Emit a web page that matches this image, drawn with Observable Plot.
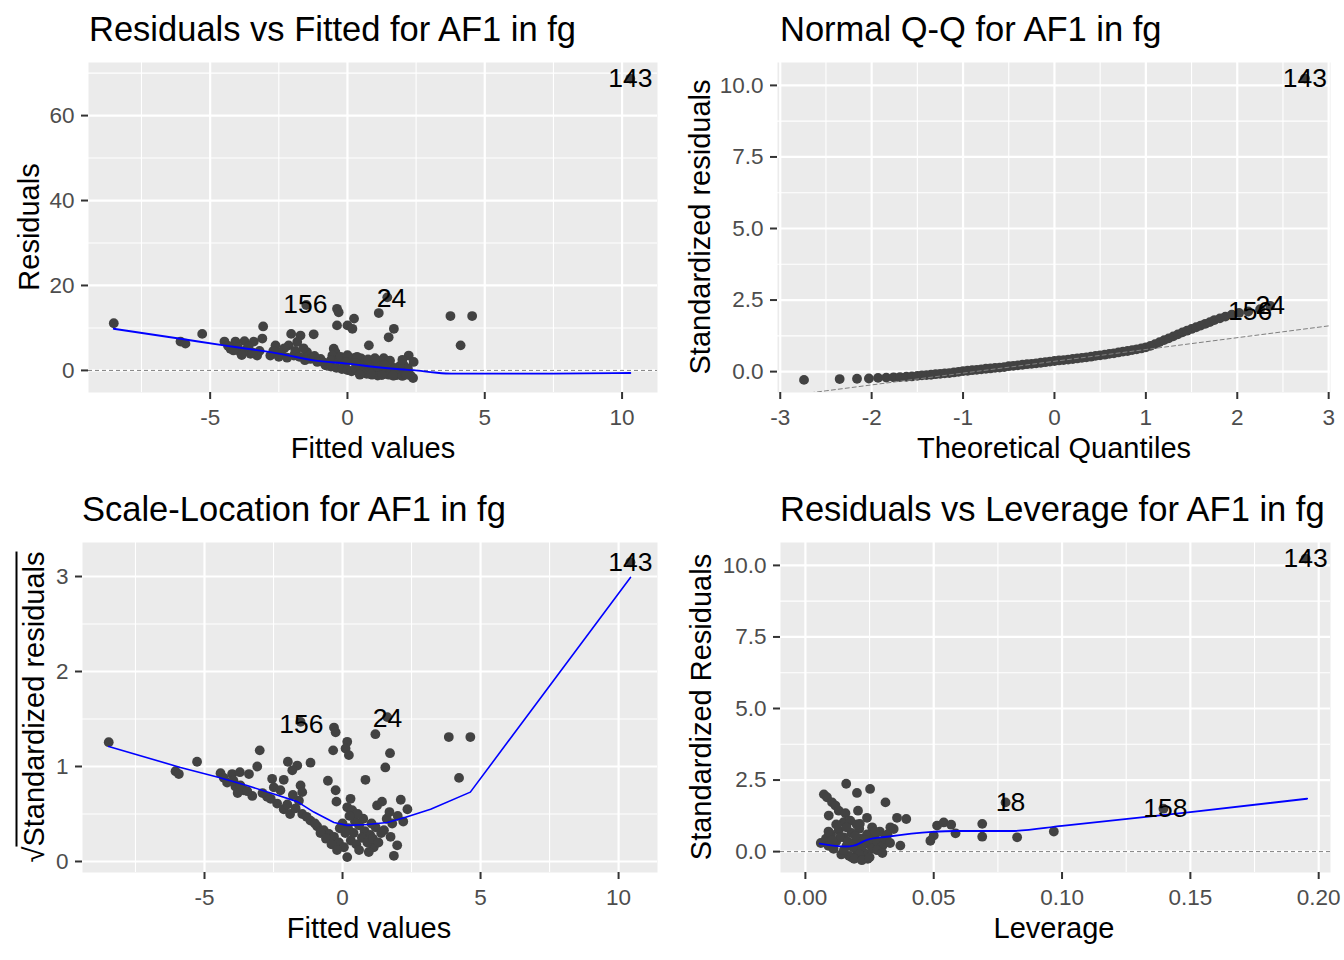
<!DOCTYPE html>
<html><head><meta charset="utf-8">
<script src="https://cdn.jsdelivr.net/npm/d3@7"></script>
<script src="https://cdn.jsdelivr.net/npm/@observablehq/plot@0.6"></script>
<style>
body{margin:0;background:#fff;}
#wrap{position:relative;width:1344px;height:960px;font-family:"Liberation Sans",Arial,sans-serif;overflow:hidden;}
.q{position:absolute;width:672px;height:480px;}
.q svg{position:absolute;left:0;top:0;}
.ttl{position:absolute;font-size:34.5px;line-height:34.5px;white-space:nowrap;color:#000;}
.xt{position:absolute;font-size:29px;line-height:29px;white-space:nowrap;color:#000;transform:translateX(-50%);}
.yt{position:absolute;font-size:29px;line-height:29px;white-space:nowrap;color:#000;transform:translate(-50%,-50%) rotate(-90deg);}
</style></head>
<body>
<div id="wrap">
  <div class="q" id="p1" style="left:0;top:0"></div>
  <div class="q" id="p2" style="left:672px;top:0"></div>
  <div class="q" id="p3" style="left:0;top:480px"></div>
  <div class="q" id="p4" style="left:672px;top:480px"></div>
  <div class="ttl" style="left:89px;top:12px">Residuals vs Fitted for AF1 in fg</div>
  <div class="ttl" style="left:780px;top:12px">Normal Q-Q for AF1 in fg</div>
  <div class="ttl" style="left:82px;top:492px">Scale-Location for AF1 in fg</div>
  <div class="ttl" style="left:780px;top:492px">Residuals vs Leverage for AF1 in fg</div>
  <div class="xt" style="left:373px;top:434px">Fitted values</div>
  <div class="xt" style="left:1054px;top:434px">Theoretical Quantiles</div>
  <div class="xt" style="left:369px;top:914px">Fitted values</div>
  <div class="xt" style="left:1054px;top:914px">Leverage</div>
  <div class="yt" style="left:29px;top:227px">Residuals</div>
  <div class="yt" style="left:700px;top:227px">Standardized residuals</div>
  <div class="yt" style="left:34px;top:707px">√<span style="text-decoration:overline">Standardized residuals</span></div>
  <div class="yt" style="left:701px;top:707px">Standardized Residuals</div>
</div>
<script>
// ---------- Panel 1: Residuals vs Fitted ----------
const fitted1 = [-8.51,-6.08,-5.9,-5.29,-4.48,-4.08,-3.75,-3.41,-4.26,-3.9,-3.53,-3.29,-4.35,-4.0,-3.7,-3.6,-3.2,-4.15,-3.85,-3.45,
 -3.07,-3.1,-2.62,-2.81,-2.44,-2.14,-2.05,-1.71,-1.83,-1.95,-1.47,-1.23,-0.98,-1.35,-2.7,-2.5,-2.3,-2.2,-1.9,-1.75,-1.6,-1.55,-1.2,-1.1,-0.85,
 -0.5,-0.38,-0.32,-0.38,-0.44,-0.55,-0.6,-0.3,0.0,0.24,0.18,0.24,-0.12,0.6,0.78,1.14,1.45,1.69,1.5,1.32,2.23,2.41,2.05,2.39,
 3.75,4.54,4.12,10.3,-1.5,
 -0.8,-0.6,-0.4,-0.2,0.0,0.15,0.3,0.4,0.5,0.6,0.7,0.8,0.9,1.0,1.1,1.2,1.3,1.4,1.5,1.6,1.7,1.8,1.9,2.0,2.1,2.2,1.9,2.3,0.1,0.5,1.2,-0.25,0.0,0.35,0.65,0.9,1.1,1.7,2.0,1.55,0.3,-0.05,0.75,1.35,1.0,0.45,0.85,1.25,1.65,2.15];
const resid1 = [11.1,6.8,6.3,8.6,6.8,6.8,6.9,6.8,5.1,4.3,3.9,3.5,5.8,5.5,4.8,5.6,4.6,4.7,3.6,4.2,
 10.35,7.5,5.9,3.5,4.3,5.9,8.6,8.2,6.7,3.5,4.3,8.5,2.7,2.7,4.6,3.2,5.2,3.0,4.6,3.2,5.2,2.4,3.4,2.0,1.8,
 5.1,14.5,13.7,10.6,4.3,3.5,2.4,2.6,10.6,12.2,9.8,2.9,1.6,2.0,5.9,13.5,17.2,9.8,7.8,2.9,3.5,2.0,1.2,-1.8,
 12.8,12.8,5.9,68.7,15.4,
 1.2,0.9,0.6,0.3,0.1,-0.2,0.5,1.2,-0.5,0.3,-0.8,0.8,-1.0,-0.3,-1.2,0.5,-0.9,-0.6,-1.0,0.2,-1.2,-1.1,-0.5,-1.3,-0.9,0.5,1.0,-1.2,2.5,2.8,2.2,3.2,3.6,3.2,1.6,1.5,0.9,0.6,2.5,2.3,1.7,1.9,2.6,1.3,2.9,-1.0,-0.9,-1.1,-1.2,-1.0];
const smooth1X = [-8.51,-6.08,-4.5,-3.66,-2.44,-1.23,0,1.2,2.05,2.4,3.17,3.8,7.5,10.3];
const smooth1Y = [9.8,7.45,5.9,5.1,3.9,2.35,1.6,0.7,0.2,0.06,-0.5,-0.75,-0.75,-0.6];
const lab1Text = ["143","156","24"];
const lab1X = [10.3,-1.53,1.6];
const lab1Y = [68.7,15.5,16.9];

// ---------- Panel 2: Normal Q-Q ----------
const theo2 = [-2.74,-2.35,-2.16,-2.03,-1.93,-1.84,-1.76,-1.69,-1.62,-1.56,-1.5,-1.45,-1.4,-1.35,-1.3,-1.25,-1.2,-1.15,-1.1,-1.05,
 -1.0,-0.95,-0.9,-0.85,-0.8,-0.75,-0.7,-0.65,-0.6,-0.55,-0.5,-0.45,-0.4,-0.35,-0.3,-0.25,-0.2,-0.15,-0.1,-0.05,
 0,0.05,0.1,0.15,0.2,0.25,0.3,0.35,0.4,0.45,0.5,0.55,0.6,0.65,0.7,0.75,0.8,0.85,0.9,0.95,
 1.0,1.05,1.1,1.15,1.2,1.25,1.3,1.35,1.4,1.45,1.5,1.55,1.6,1.65,1.7,1.75,1.81,1.87,1.94,2.02,2.12,2.25,2.36,2.74];
const std2 = [-0.29,-0.26,-0.25,-0.24,-0.22,-0.21,-0.2,-0.19,-0.18,-0.17,-0.15,-0.13,-0.12,-0.11,-0.09,-0.08,-0.06,-0.05,-0.03,-0.01,
 0.02,0.03,0.05,0.06,0.08,0.1,0.11,0.13,0.14,0.16,0.19,0.2,0.22,0.24,0.26,0.27,0.29,0.31,0.33,0.35,
 0.37,0.39,0.4,0.42,0.44,0.46,0.48,0.5,0.52,0.55,0.57,0.59,0.62,0.64,0.67,0.7,0.72,0.75,0.78,0.81,
 0.85,0.9,0.96,1.03,1.1,1.16,1.23,1.3,1.37,1.43,1.49,1.55,1.61,1.67,1.73,1.8,1.86,1.92,1.99,2.05,2.1,2.18,2.3,10.24];
const qqLineX = [-3.2,3.2];
const qqLineY = [-0.96,1.68];
const lab2Text = ["143","156","24"];
const lab2X = [2.74,2.14,2.36];
const lab2Y = [10.24,2.1,2.31];

// ---------- Panel 3: Scale-Location ----------
const fitted3 = [-8.47,-6.05,-5.93,-5.27,-4.42,-4.0,-3.72,-4.18,-3.88,-3.58,-3.27,-3.39,-3.09,-3.0,-4.3,-3.95,-3.7,-3.45,-3.8,
 -2.55,-2.13,-2.73,-2.37,-2.13,-2.49,-2.25,-1.98,-1.64,-1.82,-1.16,-1.52,-1.46,-1.58,-2.9,-2.6,-2.0,-1.8,-1.9,-1.7,
 -1.46,-1.16,-0.92,-0.68,-0.49,-0.31,-0.13,0.05,0.17,-1.3,-1.0,-0.8,-0.6,-0.4,-0.2,
 -0.31,-0.25,-0.34,-0.53,-0.25,-0.22,0.17,0.11,0.23,0.29,0.17,0.35,0.83,1.19,1.62,1.72,1.55,1.25,1.43,1.13,2.11,2.35,1.74,1.98,1.86,3.85,4.63,4.22,-1.52,10.43,
 0.0,0.2,0.4,0.6,0.8,1.0,1.2,1.4,1.6,1.8,2.0,0.3,0.5,0.7,0.9,1.1,1.3,1.5,0.1,0.45,0.75,1.05,-0.1,0.6,0.95,1.7,2.2,0.55,0.25];
const sqrtStd3 = [1.256,0.95,0.92,1.05,0.93,0.92,0.94,0.83,0.79,0.75,0.69,0.92,1.0,1.17,0.88,0.85,0.8,0.74,0.72,
 0.87,0.86,0.68,0.61,0.55,0.78,0.75,1.05,1.01,0.96,1.04,0.8,0.73,0.64,0.72,0.66,0.6,0.7,0.5,0.56,
 0.5,0.43,0.37,0.33,0.29,0.26,0.2,0.15,0.046,0.47,0.4,0.3,0.24,0.18,0.12,
 1.41,1.36,1.17,0.85,0.75,0.63,1.26,1.19,1.12,0.66,0.57,0.54,0.86,1.34,1.52,1.14,0.99,0.59,0.63,0.15,0.65,0.55,0.26,0.17,0.06,1.31,1.31,0.88,1.47,3.15,
 0.4,0.35,0.3,0.38,0.32,0.28,0.36,0.3,0.45,0.4,0.48,0.22,0.18,0.25,0.2,0.24,0.2,0.33,0.3,0.42,0.45,0.4,0.35,0.12,0.1,0.52,0.42,0.5,0.48];
const smooth3X = [-8.47,-5.87,-4.54,-3.46,-2.49,-1.64,-1.04,-0.31,0.17,0.89,1.62,2.23,3.19,4.63,10.43];
const smooth3Y = [1.21,0.99,0.89,0.8,0.71,0.63,0.52,0.41,0.38,0.39,0.41,0.46,0.55,0.73,2.99];
const lab3Text = ["143","156","24"];
const lab3X = [10.43,-1.49,1.63];
const lab3Y = [3.15,1.44,1.51];

// ---------- Panel 4: Residuals vs Leverage ----------
const lev4 = [0.0159,0.0252,0.0201,0.0072,0.0084,0.0104,0.0117,0.0312,0.013,0.0156,0.0205,0.0091,0.024,0.0149,0.0175,0.0357,0.0393,0.0331,0.0344,0.0212,
 0.0513,0.0539,0.0568,0.05,0.0487,0.0585,0.0689,0.0689,0.0825,0.0968,0.037,0.0243,0.078,0.1395,0.1949,
 0.006,0.008,0.009,0.01,0.011,0.012,0.013,0.014,0.015,0.016,0.017,0.018,0.019,0.02,0.021,0.022,0.023,0.024,0.025,0.026,0.027,0.028,0.029,0.03,0.031,0.032,0.033,
 0.018,0.02,0.022,0.016,0.012,0.009,0.026,0.028,0.021,0.0135,0.0165,0.0235,0.0195,0.03,0.015,0.027,0.0105,0.0185,0.019,0.022,0.025];
const stdRes4 = [2.37,2.19,2.05,2.0,1.9,1.72,1.61,1.72,1.43,1.34,1.43,1.26,1.18,1.03,1.08,1.18,1.14,0.85,0.79,0.97,
 0.91,1.02,0.94,0.56,0.38,0.64,0.97,0.52,0.5,0.7,0.21,-0.25,1.72,1.5,10.24,
 0.3,0.45,0.2,0.6,0.1,0.35,0.75,-0.1,0.5,0.2,-0.15,0.65,0.3,0.05,0.8,0.45,-0.05,0.6,0.25,0.1,0.5,0.35,0.7,0.2,0.45,0.6,0.3,
 -0.2,0.95,0.15,0.85,0.95,0.7,0.85,0.05,-0.1,0.5,0.35,0.4,0.55,-0.05,0.05,0.7,0.4,0.15,-0.25,-0.3,-0.2];
const smooth4X = [0.0056,0.0156,0.0188,0.024,0.0318,0.0494,0.059,0.08,0.1,0.15,0.1955];
const smooth4Y = [0.28,0.18,0.21,0.41,0.52,0.69,0.72,0.72,0.9,1.38,1.85];
const lab4Text = ["143","18","158"];
const lab4X = [0.1949,0.0799,0.1403];
const lab4Y = [10.24,1.71,1.5];

// ---------- tick / grid definitions ----------
const xMajor13 = [-5,0,5,10], xMinor13 = [-7.5,-2.5,2.5,7.5];
const yMajor1 = [0,20,40,60], yMinor1 = [10,30,50,70];
const xMajor2 = [-3,-2,-1,0,1,2,3], xMinor2 = [-2.5,-1.5,-0.5,0.5,1.5,2.5];
const yMajor24 = [0,2.5,5,7.5,10], yMinor24 = [1.25,3.75,6.25,8.75];
const yMajor3 = [0,1,2,3], yMinor3 = [0.5,1.5,2.5];
const xMajor4 = [0,0.05,0.1,0.15,0.2], xMinor4 = [0.025,0.075,0.125,0.175];

const PT = "#424242";
const fmtPlain = d => String(d);

function panel({ml, mr, xd, yd, xMaj, xMin, yMaj, yMin, xf, yf, marks}) {
  return Plot.plot({
    width: 672, height: 480,
    marginLeft: ml, marginRight: mr, marginTop: 62, marginBottom: 88,
    style: {fontFamily: '"Liberation Sans", Arial, sans-serif', fontSize: "22.5px", color: "#4D4D4D", background: "transparent", overflow: "visible"},
    x: {domain: xd}, y: {domain: yd},
    marks: [
      Plot.frame({fill: "#EBEBEB"}),
      Plot.gridX({ticks: xMin, stroke: "#fff", strokeOpacity: 1, strokeWidth: 1.1}),
      Plot.gridY({ticks: yMin, stroke: "#fff", strokeOpacity: 1, strokeWidth: 1.1}),
      Plot.gridX({ticks: xMaj, stroke: "#fff", strokeOpacity: 1, strokeWidth: 2.2}),
      Plot.gridY({ticks: yMaj, stroke: "#fff", strokeOpacity: 1, strokeWidth: 2.2}),
      Plot.axisX({ticks: xMaj, tickFormat: xf, tickSize: 7, tickPadding: 10, label: null, stroke: "#333333", strokeWidth: 2, fill: "#4D4D4D"}),
      Plot.axisY({ticks: yMaj, tickFormat: yf, tickSize: 7, tickPadding: 7, label: null, stroke: "#333333", strokeWidth: 2, fill: "#4D4D4D"}),
      ...marks
    ]
  });
}
const hline0 = () => Plot.ruleY([0], {stroke: "#7F7F7F", strokeDasharray: "4,3", strokeWidth: 1});
const labels = (t, x, y) => Plot.text(t, {x, y, text: d => d, fontSize: 26.5, fill: "#000"});
const R = 4.9;

document.getElementById("p1").append(panel({
  ml: 88, mr: 15, xd: [-9.43, 11.29], yd: [-5.2, 72.5],
  xMaj: xMajor13, xMin: xMinor13, yMaj: yMajor1, yMin: yMinor1, xf: fmtPlain, yf: fmtPlain,
  marks: [
    hline0(),
    Plot.dot(resid1, {x: fitted1, y: resid1, r: R, fill: PT, stroke: "none"}),
    Plot.line(smooth1Y, {x: smooth1X, y: smooth1Y, stroke: "#0000FF", strokeWidth: 1.9, curve: "monotone-x"}),
    labels(lab1Text, lab1X, lab1Y)
  ]
}));

document.getElementById("p2").append(panel({
  ml: 105, mr: 14, xd: [-3.03, 3.02], yd: [-0.73, 10.8],
  xMaj: xMajor2, xMin: xMinor2, yMaj: yMajor24, yMin: yMinor24, xf: fmtPlain, yf: d => d.toFixed(1),
  marks: [
    Plot.dot(std2, {x: theo2, y: std2, r: R, fill: PT, stroke: "none"}),
    Plot.line(qqLineY, {x: qqLineX, y: qqLineY, stroke: "#7F7F7F", strokeDasharray: "4,3", strokeWidth: 1, clip: true}),
    labels(lab2Text, lab2X, lab2Y)
  ]
}));

document.getElementById("p3").append(panel({
  ml: 82, mr: 15, xd: [-9.42, 11.41], yd: [-0.116, 3.358],
  xMaj: xMajor13, xMin: xMinor13, yMaj: yMajor3, yMin: yMinor3, xf: fmtPlain, yf: fmtPlain,
  marks: [
    Plot.dot(sqrtStd3, {x: fitted3, y: sqrtStd3, r: R, fill: PT, stroke: "none"}),
    Plot.line(smooth3Y, {x: smooth3X, y: smooth3Y, stroke: "#0000FF", strokeWidth: 1.6}),
    labels(lab3Text, lab3X, lab3Y)
  ]
}));

document.getElementById("p4").append(panel({
  ml: 108, mr: 14, xd: [-0.0097, 0.2046], yd: [-0.73, 10.8],
  xMaj: xMajor4, xMin: xMinor4, yMaj: yMajor24, yMin: yMinor24, xf: d => d.toFixed(2), yf: d => d.toFixed(1),
  marks: [
    hline0(),
    Plot.dot(stdRes4, {x: lev4, y: stdRes4, r: R, fill: PT, stroke: "none"}),
    Plot.line(smooth4Y, {x: smooth4X, y: smooth4Y, stroke: "#0000FF", strokeWidth: 1.9, curve: "monotone-x"}),
    labels(lab4Text, lab4X, lab4Y)
  ]
}));
</script>
</body></html>
